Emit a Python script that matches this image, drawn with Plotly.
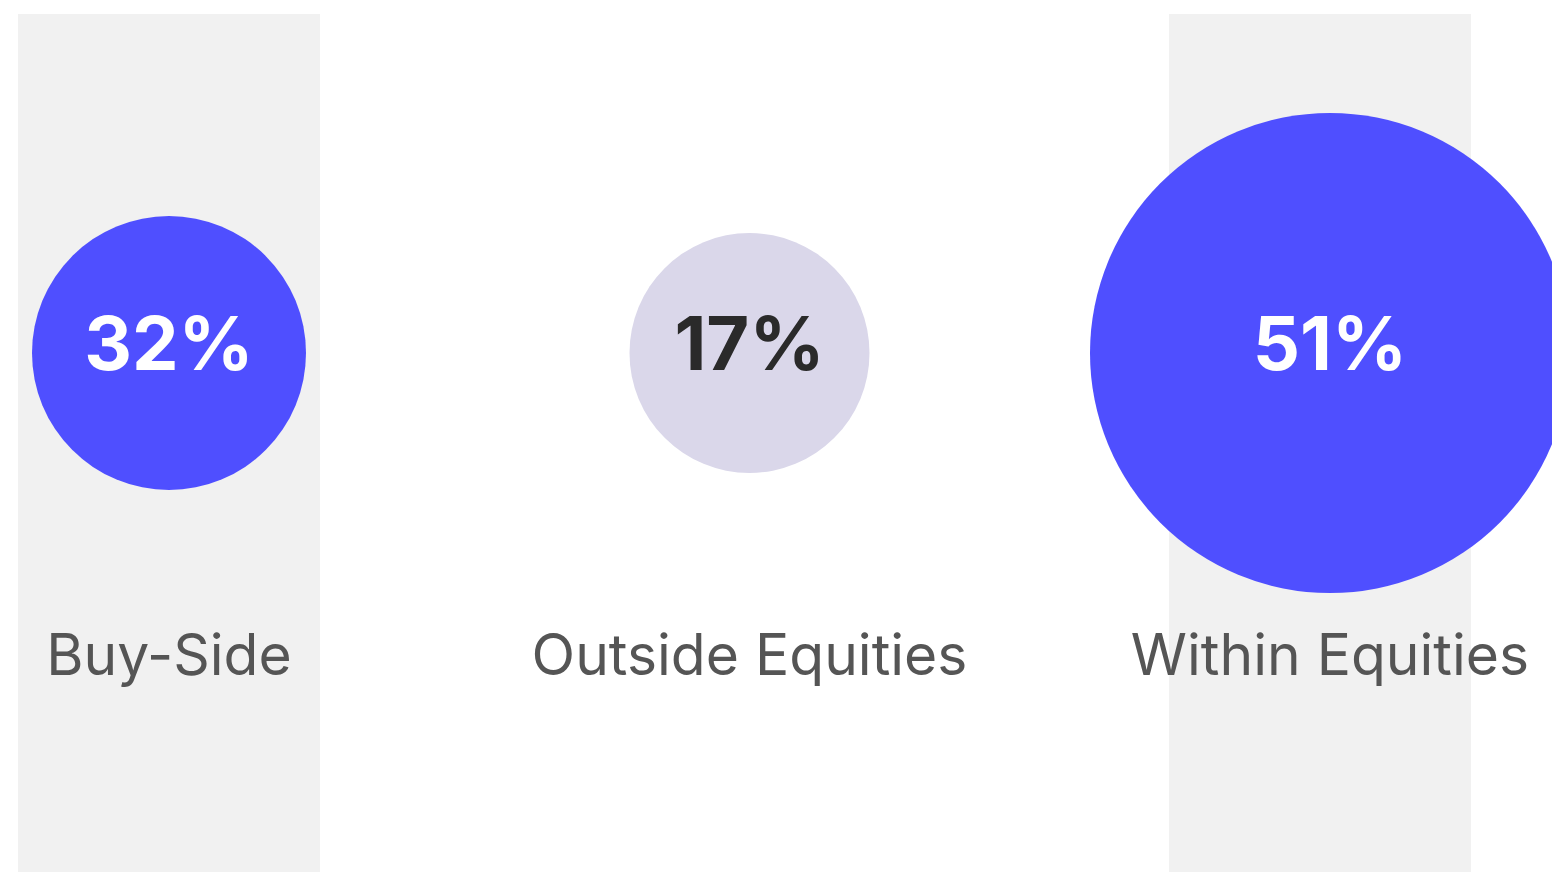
import plotly.graph_objects as go

# ---- data ----
categories = ["Buy-Side", "Outside Equities", "Within Equities"]
values = [32, 17, 51]
value_labels = [f"{v}%" for v in values]
highlighted = [True, False, True]

# ---- styles ----
W, H = 1552, 872
unit = 580.5            # px per category step
x0_px = 169             # px of first category
diameters = [274, 240, 480]
fill_colors = ["#4F4FFF", "#DAD7EA", "#4F4FFF"]
text_colors = ["#FFFFFF", "#2A2A2A", "#FFFFFF"]
band_shift_px = [0, 0, -10]
band_width_px = 302
circle_y = 353
value_y = 351
label_y = 661
font_family = "Inter"

xidx = list(range(len(categories)))

fig = go.Figure()

# highlight bands
for i, h in enumerate(highlighted):
    if h:
        c = i + band_shift_px[i] / unit
        half = band_width_px / 2 / unit
        fig.add_shape(type="rect", xref="x", yref="y",
                      x0=c - half, x1=c + half, y0=14, y1=H,
                      fillcolor="#F1F1F1", line_width=0, layer="below")

# circles
fig.add_trace(go.Scatter(
    x=xidx, y=[circle_y] * len(xidx),
    mode="markers",
    marker=dict(size=diameters, color=fill_colors, line_width=0, opacity=1),
    hoverinfo="skip", showlegend=False, cliponaxis=False,
))

# values
fig.add_trace(go.Scatter(
    x=xidx, y=[value_y] * len(xidx),
    mode="text",
    text=value_labels,
    textposition="middle center",
    textfont=dict(family=font_family, size=74, color=text_colors, weight="bold"),
    hoverinfo="skip", showlegend=False, cliponaxis=False,
))

# category labels
fig.add_trace(go.Scatter(
    x=xidx, y=[label_y] * len(xidx),
    mode="text",
    text=categories,
    textposition="middle center",
    textfont=dict(family=font_family, size=57, color="#555555"),
    hoverinfo="skip", showlegend=False, cliponaxis=False,
))

fig.update_xaxes(range=[-x0_px / unit, (W - x0_px) / unit], visible=False, fixedrange=True)
fig.update_yaxes(range=[H, 0], visible=False, fixedrange=True)
fig.update_layout(
    width=W, height=H,
    margin=dict(l=0, r=0, t=0, b=0),
    plot_bgcolor="white", paper_bgcolor="white",
    showlegend=False,
)

fig.write_html("out.html", config={"displayModeBar": False},
               post_script="document.body.style.margin='0';document.body.style.overflow='hidden';")
